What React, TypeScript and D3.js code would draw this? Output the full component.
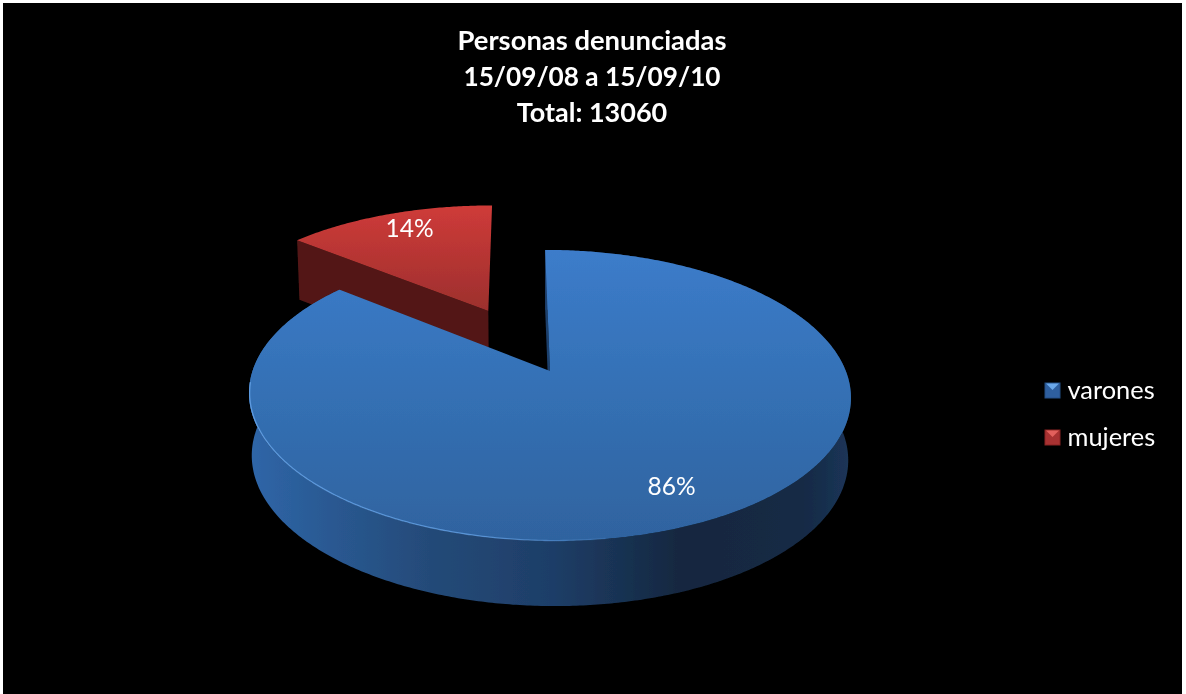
import React from 'react';
import * as d3 from 'd3';

const categories = ['varones', 'mujeres'];
const shares = [86, 14];
const titleLines = ['Personas denunciadas', '15/09/08 a 15/09/10', 'Total: 13060'];
const titleSizes = [27.4, 26.2, 27];

const WIDTH = 1186;
const HEIGHT = 694;
const FONT = 'Lato, "Open Sans", sans-serif';

// perspective plane of the pie: top disc and the (slightly smaller) bottom disc
const topPlane = { cx: 550, cy: 371, rx: 296.7, ry: 141.4, p: 0.168 };
const bottomPlane = { cx: 550, cy: 433, rx: 294, ry: 144, p: 0.168 };
const TILT = 0.008;
const START_ANGLE = (-1.1 * Math.PI) / 180;
const EXPLODE = 0.505;

type Plane = typeof topPlane;
type Pt = [number, number];

const project = (pl: Plane, x: number, y: number): Pt => {
  const w = 1 - pl.p * y;
  const px = (pl.rx * x) / w;
  return [pl.cx + px, pl.cy + (pl.ry * y) / w + TILT * px];
};

const slices = d3
  .pie<number>()
  .sort(null)
  .startAngle(START_ANGLE)
  .endAngle(START_ANGLE + 2 * Math.PI)(shares);

// angle measured clockwise from the back of the pie
const rimPoint = (pl: Plane, a: number, off: Pt, r = 1): Pt =>
  project(pl, off[0] + Math.sin(a) * r, off[1] - Math.cos(a) * r);

const angleSteps = (a0: number, a1: number) => {
  const n = Math.max(2, Math.ceil((a1 - a0) / 0.01));
  return d3.range(n + 1).map((k) => a0 + ((a1 - a0) * k) / n);
};

const toPath = d3.line<Pt>();

const App = () => {
  const blue = slices[0];
  const red = slices[1];
  const redMid = (red.startAngle + red.endAngle) / 2;
  const redOff: Pt = [Math.sin(redMid) * EXPLODE, -Math.cos(redMid) * EXPLODE];
  const blueOff: Pt = [0, 0];

  const topPath = (s: d3.PieArcDatum<number>, off: Pt) => {
    const rim = angleSteps(s.startAngle, s.endAngle).map((a) => rimPoint(topPlane, a, off));
    const apex = project(topPlane, off[0], off[1]);
    return `${toPath([apex, ...rim])}Z`;
  };
  const wallPath = (s: d3.PieArcDatum<number>, off: Pt) => {
    const angles = angleSteps(s.startAngle, s.endAngle);
    const upper = angles.map((a) => rimPoint(topPlane, a, off));
    const lower = angles.map((a) => rimPoint(bottomPlane, a, off)).reverse();
    return `${toPath([...upper, ...lower])}Z`;
  };
  const facePath = (angle: number, off: Pt) =>
    `${toPath([
      project(topPlane, off[0], off[1]),
      rimPoint(topPlane, angle, off),
      rimPoint(bottomPlane, angle, off),
      project(bottomPlane, off[0], off[1]),
    ])}Z`;

  // light bevel along the front left of the big slice
  const rimLight = toPath(
    angleSteps(Math.PI * 0.95, Math.PI * 1.47).map((a) => rimPoint(topPlane, a, blueOff, 0.998))
  ) as string;

  const labelPoint = (s: d3.PieArcDatum<number>, off: Pt) =>
    rimPoint(topPlane, (s.startAngle + s.endAngle) / 2, off, 0.8);
  const blueLabel = labelPoint(blue, blueOff);
  const redLabel = labelPoint(red, redOff);

  const legendY = d3.scalePoint<string>().domain(categories).range([391, 438]);
  const legendColors: Record<string, [string, string, string]> = {
    varones: ['#2f5f9f', '#254f86', '#6aa8ea'],
    mujeres: ['#a83230', '#8a2725', '#e2605c'],
  };

  return (
    <div style={{ position: 'absolute', left: 0, top: 0, width: WIDTH, height: HEIGHT, background: '#fff' }}>
      <svg width={WIDTH} height={HEIGHT} style={{ display: 'block' }}>
        <defs>
          <linearGradient id="blueTop" gradientUnits="userSpaceOnUse" x1="0" x2="0" y1="250" y2="541">
            <stop offset="0" stopColor="#3c7cca" />
            <stop offset="0.5" stopColor="#3470b4" />
            <stop offset="1" stopColor="#2f639f" />
          </linearGradient>
          <linearGradient id="blueWall" gradientUnits="userSpaceOnUse" x1="250" x2="851" y1="0" y2="0">
            <stop offset="0" stopColor="#2f66a8" />
            <stop offset="0.12" stopColor="#2a5a94" />
            <stop offset="0.3" stopColor="#244a78" />
            <stop offset="0.5" stopColor="#1e3e68" />
            <stop offset="0.72" stopColor="#14273f" />
            <stop offset="0.92" stopColor="#162a45" />
            <stop offset="1" stopColor="#1b3558" />
          </linearGradient>
          <linearGradient id="rimLight" gradientUnits="userSpaceOnUse" x1="250" x2="640" y1="0" y2="0">
            <stop offset="0" stopColor="#6aa8ee" stopOpacity="0.75" />
            <stop offset="0.6" stopColor="#6aa8ee" stopOpacity="0.7" />
            <stop offset="1" stopColor="#6aa8ee" stopOpacity="0" />
          </linearGradient>
          <linearGradient id="redTop" gradientUnits="userSpaceOnUse" x1="0" x2="0" y1="205" y2="312">
            <stop offset="0" stopColor="#cf3b39" />
            <stop offset="1" stopColor="#9c2f2d" />
          </linearGradient>
          <filter id="soft" x="-5%" y="-5%" width="110%" height="110%">
            <feGaussianBlur stdDeviation="0.45" />
          </filter>
        </defs>

        <rect x={3} y={3} width={1179} height={HEIGHT - 3} fill="#000" />

        <g filter="url(#soft)">
          {/* exploded slice first, the big one covers its foot */}
          <path d={facePath(red.startAngle, redOff)} fill="#521816" />
          <path d={topPath(red, redOff)} fill="url(#redTop)" />

          <path d={wallPath(blue, blueOff)} fill="url(#blueWall)" />
          <path d={facePath(blue.startAngle, blueOff)} fill="#1d3f6c" />
          <path d={topPath(blue, blueOff)} fill="url(#blueTop)" />
          <path d={rimLight} fill="none" stroke="url(#rimLight)" strokeWidth={1.3} />
        </g>

        <g fill="#fff" fontFamily={FONT} textAnchor="middle" filter="url(#soft)">
          {titleLines.map((t, i) => (
            <text key={t} x={592} y={50 + i * 36} fontSize={titleSizes[i]} fontWeight={700}>
              {t}
            </text>
          ))}
          <text x={blueLabel[0] + 2} y={blueLabel[1] + 8} fontSize={24.5}>
            {shares[0]}%
          </text>
          <text x={redLabel[0] + 3} y={redLabel[1] + 5} fontSize={24.5}>
            {shares[1]}%
          </text>
        </g>

        <g filter="url(#soft)">
          {categories.map((c) => {
            const y = legendY(c) as number;
            const [top, bottom, light] = legendColors[c];
            return (
              <g key={c} transform={`translate(1045,${y})`}>
                <rect x={0} y={-8} width={15} height={15} fill={top} stroke={bottom} />
                <path d="M1,-7.5H14L7.5,-1Z" fill={light} />
                <text x={22.5} y={8} fill="#fff" fontFamily={FONT} fontSize={25.4}>
                  {c}
                </text>
              </g>
            );
          })}
        </g>
      </svg>
    </div>
  );
};

export default App;
